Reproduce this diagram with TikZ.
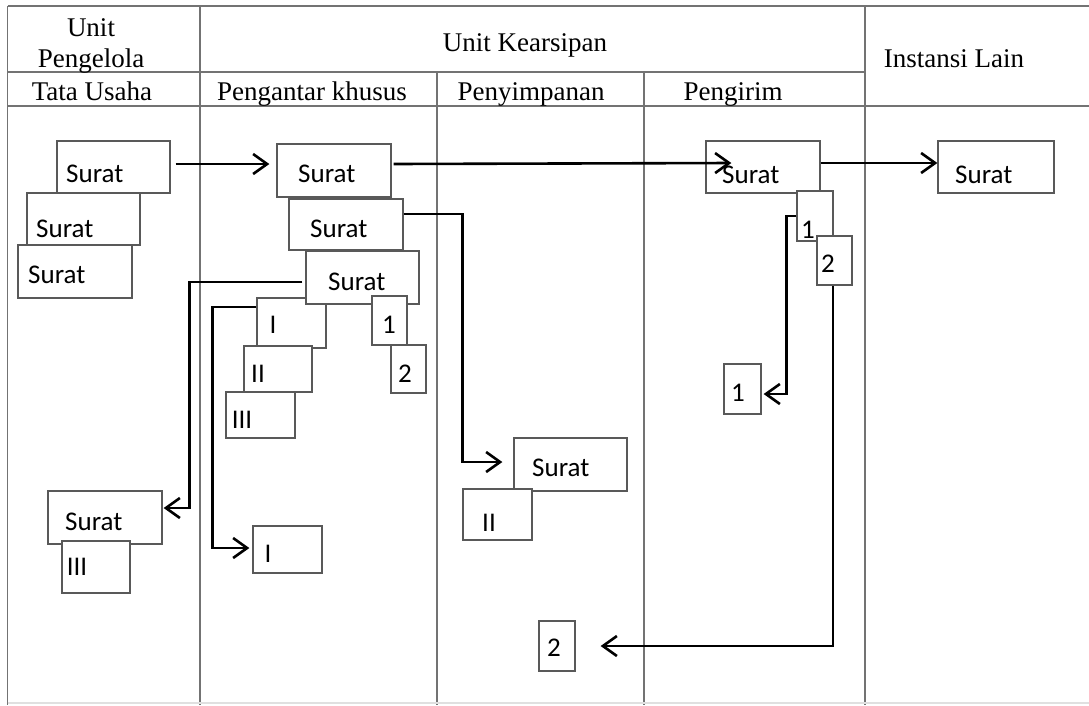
\documentclass[tikz,border=0pt]{standalone}
\usepackage{fontspec}
\setmainfont{Liberation Serif}
\newfontfamily\carlitofont{Carlito}
\usetikzlibrary{arrows.meta,calc}
\newcommand\docnode[5]{\node[doc,minimum width={#4-#2},minimum height={#5-#3}] (#1) at ({(#2+#4)/2},{(#3+#5)/2}) {};}
\begin{document}
\begin{tikzpicture}[x=1pt,y=-1pt,
 grid/.style={draw=black!55,line width=1.5pt},
 doc/.style={draw=black!65,fill=white,line width=1.3pt,inner sep=0pt},
 hdr/.style={font=\fontsize{27}{30}\selectfont,inner sep=0pt,anchor=base},
 dtxt/.style={font=\carlitofont\fontsize{27}{30}\selectfont,inner sep=0pt},
 arr/.style={draw=black,line width=2.6pt,-{Straight Barb[length=14pt,width=20pt,line width=2.6pt]}}]

\useasboundingbox (0,0) rectangle (1089,705);

% table
\draw[grid] (7.5,6) -- (1089,6);
\draw[grid] (7.5,72) -- (865,72);
\draw[grid] (7.5,106) -- (1089,106);
\draw[grid] (7.5,6) -- (7.5,705);
\draw[grid] (200,6) -- (200,705);
\draw[grid] (437,72) -- (437,705);
\draw[grid] (644,72) -- (644,705);
\draw[grid] (865,6) -- (865,705);
\draw[draw=black!12,line width=1.2pt] (7.5,703) -- (1089,703);

% headers
\node[hdr] (h1) at (91,36) {Unit};
\node[hdr] (h2) at (91,67) {Pengelola};
\node[hdr] (h3) at (92,100) {Tata Usaha};
\node[hdr] (h4) at (525,51) {Unit Kearsipan};
\node[hdr] (h5) at (312,100) {Pengantar khusus};
\node[hdr] (h6) at (531,100) {Penyimpanan};
\node[hdr] (h7) at (733,100) {Pengirim};
\node[hdr] (h8) at (954,67) {Instansi Lain};

% Tata Usaha column
\docnode{a1}{57}{141}{170}{193}
\docnode{a2}{27}{193}{140}{245}
\docnode{a3}{18}{245}{132}{298}
\node[dtxt,anchor=base west] (ta1) at (66,182) {Surat};
\node[dtxt,anchor=base west] (ta2) at (36,237) {Surat};
\node[dtxt,anchor=base west] (ta3) at (28,283) {Surat};
\docnode{l4}{48}{491}{162}{544}
\docnode{l5}{62}{541}{130}{593}
\node[dtxt,anchor=base west] (tl4) at (65,530) {Surat};
\node[dtxt,anchor=base] (tl5) at (77,575) {III};

% Pengantar khusus column
\docnode{d1}{277}{144}{391}{197}
\docnode{e1}{289}{199}{403}{250}
\docnode{r1}{257}{298}{326}{348}
\docnode{f1}{306}{251}{419}{304}
\docnode{r2}{244}{346}{312}{392}
\docnode{r3}{226}{392}{295}{438}
\docnode{n1}{372}{296}{407}{345}
\docnode{n2}{391}{345}{426}{393}
\node[dtxt,anchor=base west] (td1) at (298,182) {Surat};
\node[dtxt,anchor=base west] (te1) at (310,237) {Surat};
\node[dtxt,anchor=base west] (tf1) at (328,290) {Surat};
\node[dtxt,anchor=base] (tr1) at (273,333) {I};
\node[dtxt,anchor=base] (tr2) at (258,382) {II};
\node[dtxt,anchor=base] (tr3) at (242,428) {III};
\node[dtxt,anchor=base] (tn1) at (389,333) {1};
\node[dtxt,anchor=base] (tn2) at (405,382) {2};
\docnode{i2}{253}{526}{322}{573}
\node[dtxt,anchor=base] (ti2) at (268,562) {I};

% Penyimpanan column
\docnode{s1}{514}{438}{627}{491}
\docnode{s2}{463}{489}{532}{540}
\node[dtxt,anchor=base west] (ts1) at (532,476) {Surat};
\node[dtxt,anchor=base] (ts2) at (489,531) {II};
\docnode{b2}{539}{621}{575}{671}
\node[dtxt,anchor=base] (tb2) at (554,656) {2};

% Pengirim column
\docnode{p1}{706}{141}{820}{193}
\docnode{q1}{797}{191}{833}{241}
\docnode{q2}{817}{236}{852}{285}
\node[dtxt,anchor=base west] (tp1) at (722,183) {Surat};
\node[dtxt,anchor=base] (tq1) at (808,238) {1};
\node[dtxt,anchor=base] (tq2) at (828,272) {2};
\docnode{t1}{724}{364}{761}{414}
\node[dtxt,anchor=base] (tt1) at (738,401) {1};

% Instansi Lain
\docnode{k1}{938}{141}{1054}{193}
\node[dtxt,anchor=base west] (tk1) at (955,183) {Surat};

% connectors
\draw[arr] ($(a1.east)+(5,-3)$) -- ($(d1.west)+(-7,-6.5)$);
\draw[arr] ($(d1.east)+(2,-6.5)$) -- ($(p1.west)+(26,-4)$);
\draw[arr] ($(p1.east)+(0,-4)$) -- ($(k1.west)+(0,-4)$);
\draw[arr] ($(e1.east)+(0,-10.5)$) -| ($(s1.west)+(-51,-2.5)$) -- ($(s1.west)+(-11,-2.5)$);
\draw[arr] ($(f1.west)+(-3,4.5)$) -| ($(l4.east)+(27,-9.5)$) -- ($(l4.east)+(1,-9.5)$);
\draw[arr] ($(r1.west)+(0,-16)$) -| ($(i2.west)+(-40,-1.5)$) -- ($(i2.west)+(-3,-1.5)$);
\draw[arr] (q1.west) -| ($(t1.east)+(25,5)$) -- ($(t1.east)+(2,5)$);
\draw[arr] ($(q2.south)+(-1.5,0)$) |- ($(b2.east)+(25,0)$);
\end{tikzpicture}
\end{document}
